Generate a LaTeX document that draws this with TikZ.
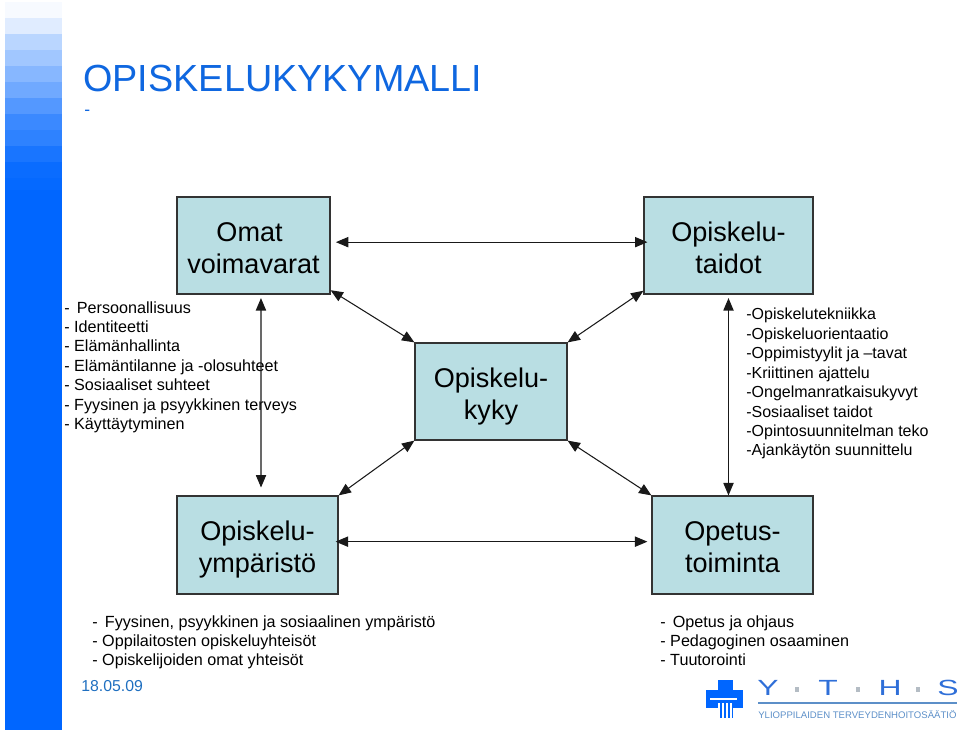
\documentclass[tikz,border=0pt]{standalone}
\usepackage{fontspec}
\setmainfont{Liberation Sans}
\usetikzlibrary{arrows}
\definecolor{barblue}{HTML}{0066FF}
\definecolor{titleblue}{HTML}{0F67E0}
\definecolor{dateblue}{HTML}{1F6FC0}
\definecolor{boxfill}{HTML}{B9DEE3}
\definecolor{logogrey}{HTML}{B4BCC4}
\definecolor{logotext}{HTML}{5C8FC8}
\definecolor{logoblue}{HTML}{2F6FD8}
\newcommand*{\barLeft}{5}
\newcommand*{\barRight}{62}
\newcommand*{\stepH}{16}
\tikzset{
	box/.style={draw=black!80, line width=0.7pt, fill=boxfill, align=center, inner sep=0pt, font=\fontsize{15.4}{18.4}\selectfont, text height=31.8pt, text depth=0pt},
	listing/.style={anchor=north west, align=left, inner sep=0pt, font=\fontsize{9.2}{11.05}\selectfont},
	link/.style={<->, >=triangle 45, line width=0.6pt, black!90},
}
\begin{document}
\begin{tikzpicture}[x=0.02cm, y=-0.02cm]
	\useasboundingbox (0,0) rectangle (960,732);
	% side bar
	\fill[barblue] (\barLeft,190) rectangle (\barRight,730);
	\foreach \s/\o in {0/3,1/12,2/27,3/37,4/47,5/56,6/67,7/77,8/82,9/90,10/96,11/98}
	{
		\fill[barblue, opacity=\o/100] (\barLeft,2+\s*\stepH) rectangle (\barRight,2+\s*\stepH+\stepH);
	}
	% title
	\node[anchor=west, inner sep=0pt, text=titleblue, font=\fontsize{21.5}{25}\selectfont] (title) at (83,79) {OPISKELUKYKYMALLI};
	\node[anchor=west, inner sep=0pt, text=titleblue, font=\fontsize{10}{12}\selectfont] (titledash) at (84,113) {-};
	% boxes
	\node[box, minimum width=153*0.02cm, minimum height=97*0.02cm] (omat) at (253.5,245.5) {Omat\hspace*{4.5pt}\\voimavarat};
	\node[box, minimum width=169*0.02cm, minimum height=97*0.02cm] (taidot) at (728.5,245.5) {Opiskelu-\\taidot};
	\node[box, minimum width=152*0.02cm, minimum height=97*0.02cm] (kyky) at (491,391.5) {Opiskelu-\\kyky};
	\node[box, minimum width=161*0.02cm, minimum height=98*0.02cm] (ymparisto) at (257.5,545) {Opiskelu-\\ympäristö};
	\node[box, minimum width=161*0.02cm, minimum height=98*0.02cm] (opetus) at (732.5,545) {Opetus-\\toiminta};
	% lists
	\node[listing] (omatlist) at (64,301) {-\ \,Persoonallisuus\\- Identiteetti\\- Elämänhallinta\\- Elämäntilanne ja -olosuhteet\\- Sosiaaliset suhteet\\- Fyysinen ja psyykkinen terveys\\- Käyttäytyminen};
	\node[listing, font=\fontsize{9.1}{11.05}\selectfont] (taitolist) at (746,308) {-Opiskelutekniikka\\-Opiskeluorientaatio\\-Oppimistyylit ja –tavat\\-Kriittinen ajattelu\\-Ongelmanratkaisukyvyt\\-Sosiaaliset taidot\\-Opintosuunnitelman teko\\-Ajankäytön suunnittelu};
	\node[listing] (ymplist) at (92,615) {-\ \,Fyysinen, psyykkinen ja sosiaalinen ympäristö\\- Oppilaitosten opiskeluyhteisöt\\- Opiskelijoiden omat yhteisöt};
	\node[listing] (opelist) at (660,615) {-\ \,Opetus ja ohjaus\\- Pedagoginen osaaminen\\- Tuutorointi};
	\node[anchor=west, inner sep=0pt, text=dateblue, font=\fontsize{9}{11}\selectfont] (date) at (81,686) {18.05.09};
	% arrows
	\draw[link] ([xshift=3pt,yshift=1.9pt]omat.east) -- ([xshift=2.3pt,yshift=1.9pt]taidot.west);
	\draw[link] ([xshift=-1.7pt,yshift=1.9pt]ymparisto.east) -- ([xshift=-2.3pt,yshift=1.9pt]opetus.west);
	\draw[link] ([yshift=2.5pt]omat.south east) -- (kyky.north west);
	\draw[link] ([yshift=2.2pt]taidot.south west) -- (kyky.north east);
	\draw[link] (ymparisto.north east) -- (kyky.south west);
	\draw[link] (opetus.north west) -- (kyky.south east);
	\draw[link] ([xshift=4.25pt,yshift=-2pt]omat.south) -- ([xshift=2pt,yshift=4.5pt]ymparisto.north);
	\draw[link] ([yshift=-2pt]taidot.south) -- (taidot.south |- opetus.north);
	% logo
	\fill[barblue] (718,680) rectangle (733,718);
	\fill[barblue] (706,690) rectangle (743,708);
	\draw[white, line width=0.8pt] (710,699) -- (737,699);
	\foreach \x in {719,723,727,731}
	{
		\draw[white, line width=0.6pt] (\x,703) -- (\x,718);
	}
	\foreach \letter/\x in {Y/768,T/828,H/890,S/948}
	{
		\node[inner sep=0pt, text=logoblue, xscale=1.45, font=\fontsize{12.5}{14}\selectfont] at (\x,688) {\letter};
	}
	\foreach \x in {797,858,918}
	{
		\fill[logogrey] (\x-2,687) rectangle (\x+2,692);
	}
	\draw[logotext, line width=0.6pt] (758,703) -- (957,703);
	\node[anchor=west, inner sep=0pt, text=logotext, font=\fontsize{5.45}{6}\selectfont] (logotxt) at (758,715) {YLIOPPILAIDEN TERVEYDENHOITOSÄÄTIÖ};
\end{tikzpicture}
\end{document}
